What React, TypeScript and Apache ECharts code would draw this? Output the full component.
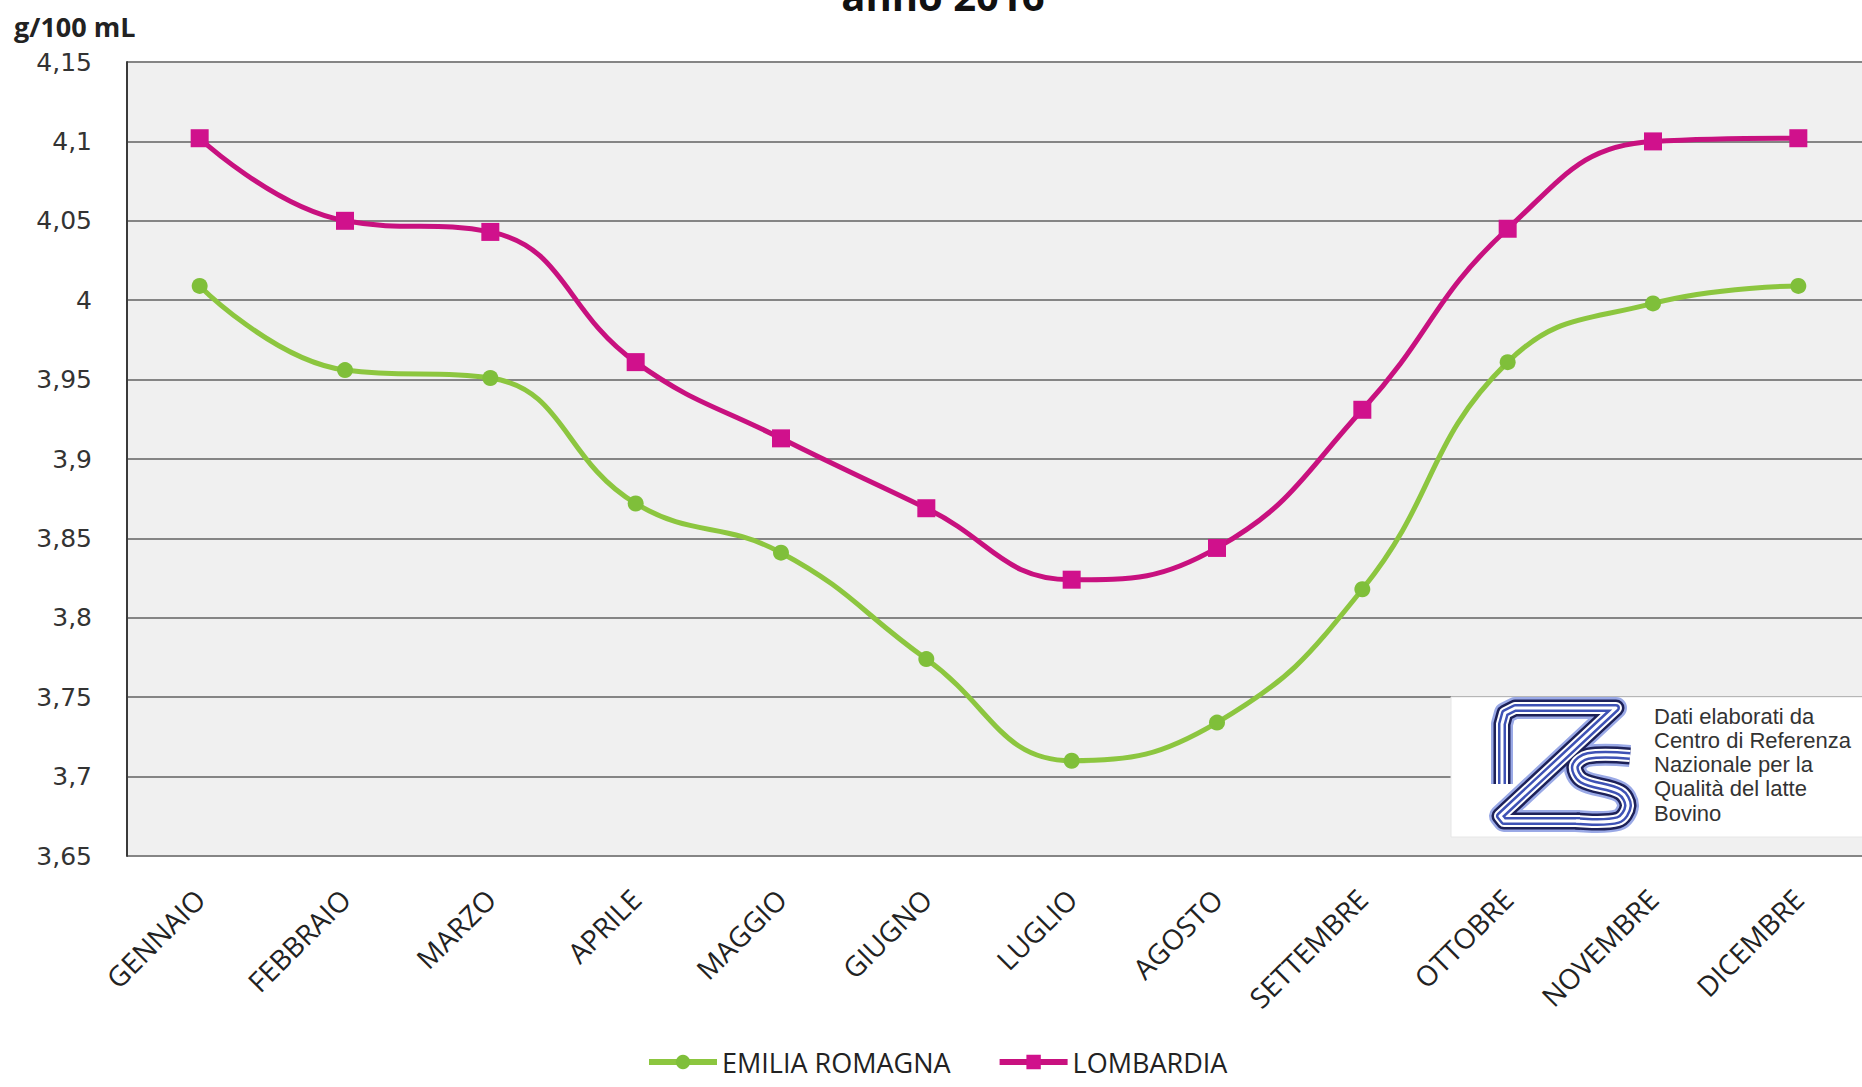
import React, { useEffect, useRef } from "react";
import * as echarts from "echarts";

// Monthly fat content of bovine milk (g/100 mL), year 2016
const months = [
  "GENNAIO", "FEBBRAIO", "MARZO", "APRILE", "MAGGIO", "GIUGNO",
  "LUGLIO", "AGOSTO", "SETTEMBRE", "OTTOBRE", "NOVEMBRE", "DICEMBRE",
];
const emiliaRomagna = [4.009, 3.956, 3.951, 3.872, 3.841, 3.774, 3.710, 3.734, 3.818, 3.961, 3.998, 4.009];
const lombardia = [4.102, 4.050, 4.043, 3.961, 3.913, 3.869, 3.824, 3.844, 3.931, 4.045, 4.100, 4.102];
const seriesNames = ["EMILIA ROMAGNA", "LOMBARDIA"];
const yMin = 3.65;
const yMax = 4.15;
const yStep = 0.05;
const unitLabel = "g/100 mL";
const titleText = "anno 2016";
const creditLines = [
  "Dati elaborati da",
  "Centro di Referenza",
  "Nazionale per la",
  "Qualità del latte",
  "Bovino",
];

const GREEN = "#8cc63f";
const MAGENTA = "#c8117f";

// Striped "IZS" emblem built from layered strokes
function emblem(baseZ: number): any[] {
  const paths = [
    { points: [[22, 84], [22, 24], [25, 13], [35, 8], [136, 8], [20, 116], [24, 121], [100, 121]], smooth: 0 },
    { points: [[150, 56], [108, 56], [95, 66], [102, 80], [140, 92], [148, 106], [138, 120], [96, 121]], smooth: 0.35 },
  ];
  const layers = [
    { w: 22, c: "#9aa9e6" },
    { w: 17, c: "#1d2158" },
    { w: 12, c: "#ffffff" },
    { w: 8, c: "#3e52b5" },
    { w: 3, c: "#ffffff" },
  ];
  const out: any[] = [];
  layers.forEach((l, li) => {
    paths.forEach((p) => {
      out.push({
        type: "polyline",
        z: baseZ + li,
        shape: { points: p.points, smooth: p.smooth },
        style: { stroke: l.c, lineWidth: l.w, fill: "none", lineJoin: "round", lineCap: "butt" },
      });
    });
  });
  return out;
}

export default function App() {
  const ref = useRef<HTMLDivElement>(null);

  useEffect(() => {
    if (!ref.current) return;
    const chart = echarts.init(ref.current, null, { renderer: "svg" });

    const fmt = (v: number) => String(Number(v.toFixed(2))).replace(".", ",");

    chart.setOption({
      animation: false,
      backgroundColor: "#ffffff",
      grid: {
        left: 127,
        right: -9,
        top: 62,
        bottom: 231,
        show: true,
        backgroundColor: "#f0f0f0",
        borderWidth: 0,
        outerBoundsMode: "none",
      },
      legend: {
        data: seriesNames,
        left: 641,
        top: 1043,
        itemWidth: 68,
        itemHeight: 18,
        itemGap: 46,
        lineStyle: { width: 6 },
        textStyle: { fontFamily: "Open Sans", fontSize: 27, lineHeight: 28, color: "#222" },
      },
      xAxis: {
        type: "category",
        data: months,
        boundaryGap: true,
        axisLine: { show: false },
        axisTick: { show: false },
        axisLabel: {
          interval: 0,
          rotate: 45,
          margin: 38,
          fontFamily: "Open Sans",
          fontSize: 28,
          color: "#222",
        },
      },
      yAxis: {
        type: "value",
        min: yMin,
        max: yMax,
        interval: yStep,
        axisLine: { show: true, lineStyle: { color: "#3a3a3a", width: 2 } },
        axisTick: { show: false },
        axisLabel: {
          margin: 35,
          fontFamily: "DejaVu Sans",
          fontSize: 25,
          color: "#333",
          formatter: fmt,
        },
        splitLine: { show: true, lineStyle: { color: "#858585", width: 2 } },
      },
      series: [
        {
          name: seriesNames[0],
          type: "line",
          data: emiliaRomagna,
          smooth: 0.45,
          symbol: "circle",
          symbolSize: 16,
          lineStyle: { color: GREEN, width: 5 },
          itemStyle: { color: "#7fbf3a" },
          z: 3,
        },
        {
          name: seriesNames[1],
          type: "line",
          data: lombardia,
          smooth: 0.45,
          symbol: "rect",
          symbolSize: 18,
          lineStyle: { color: MAGENTA, width: 5 },
          itemStyle: { color: "#d0118c" },
          z: 4,
        },
      ],
      graphic: [
        {
          type: "text",
          x: 943,
          y: -5,
          z: 10,
          style: {
            text: titleText,
            fontFamily: "Open Sans",
            fontWeight: "bold",
            fontSize: 40,
            fill: "#111",
            align: "center",
            verticalAlign: "middle",
          },
        },
        {
          type: "text",
          x: 14,
          y: 26,
          z: 10,
          style: {
            text: unitLabel,
            fontFamily: "Open Sans",
            fontWeight: "bold",
            fontSize: 27,
            fill: "#222",
            align: "left",
            verticalAlign: "middle",
          },
        },
        {
          type: "rect",
          shape: { x: 1451, y: 697, width: 420, height: 140 },
          style: { fill: "#ffffff", stroke: "#e6e6e6", lineWidth: 1 },
          z: 20,
        },
        {
          type: "group",
          x: 1480,
          y: 700,
          z: 21,
          children: emblem(21),
        },
        ...creditLines.map((t, i) => ({
          type: "text",
          x: 1654,
          y: 716 + i * 24.3,
          z: 30,
          style: {
            text: t,
            fontFamily: "Liberation Sans",
            fontSize: 22,
            fill: "#333",
            align: "left",
            verticalAlign: "middle",
          },
        })),
      ],
    });

    return () => chart.dispose();
  }, []);

  return (
    <div
      ref={ref}
      style={{ position: "fixed", left: 0, top: 0, width: 1862, height: 1087 }}
    />
  );
}
